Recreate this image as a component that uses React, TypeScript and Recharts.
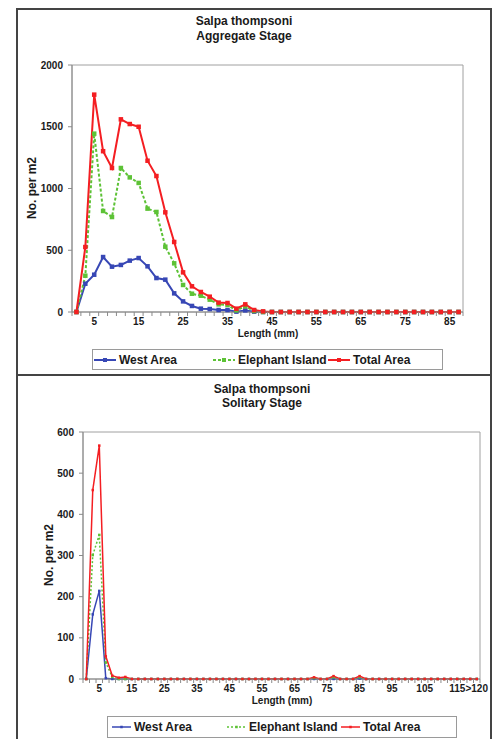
import React from 'react';
import { LineChart, Line, XAxis, YAxis, ReferenceArea } from 'recharts';

const FONT = '"Liberation Sans", Arial, Helvetica, sans-serif';

// ---------- Aggregate stage ----------
const aggCategories = ['1','3','5','7','9','11','13','15','17','19','21','23','25','27','29','31','33','35','37','39','41','43','45','47','49','51','53','55','57','59','61','63','65','67','69','71','73','75','77','79','81','83','85','87'];
const aggLabels = ['5','15','25','35','45','55','65','75','85'];
const aggYTicks = [0, 500, 1000, 1500, 2000];
const aggWest = [0,229,302,445,367,381,416,437,370,275,262,151,86,49,27,24,16,16,3,13,3,0,0,0,0,0,0,0,0,0,0,0,0,0,0,0,0,0,0,0,0,0,0,0];
const aggElephant = [0,294,1444,818,769,1166,1090,1045,837,810,529,394,219,148,132,100,62,57,13,46,8,0,0,0,0,0,0,0,0,0,0,0,0,0,0,0,0,0,0,0,0,0,0,0];
const aggTotal = [0,526,1760,1302,1166,1560,1522,1500,1225,1101,807,567,321,208,162,124,76,73,27,62,16,5,0,0,0,0,0,0,0,0,0,0,0,0,0,0,0,0,0,0,0,0,0,0];

// ---------- Solitary stage ----------
const solCategories = ['1','3','5','7','9','11','13','15','17','19','21','23','25','27','29','31','33','35','37','39','41','43','45','47','49','51','53','55','57','59','61','63','65','67','69','71','73','75','77','79','81','83','85','87','89','91','93','95','97','99','101','103','105','107','109','111','113','115','117','119','>120'];
const solLabels = ['5','15','25','35','45','55','65','75','85','95','105','115','>120'];
const solYTicks = [0, 100, 200, 300, 400, 500, 600];
const solWest = [0,157,214,2,0,0,0,0,0,0, 0,0,0,0,0,0,0,0,0,0, 0,0,0,0,0,0,0,0,0,0, 0,0,0,0,0,0,0,0,0,0, 0,0,1,0,0,0,0,0,0,0, 0,0,0,0,0,0,0,0,0,0, 0];
const solElephant = [0,301,350,40,5,0,0,0,0,0, 0,0,0,0,0,0,0,0,0,0, 0,0,0,0,0,0,0,0,0,0, 0,0,0,0,0,2,0,0,4,0, 0,0,4,0,0,0,0,0,0,0, 0,0,0,0,0,0,0,0,0,0, 0];
const solTotal = [0,459,567,55,8,3,5,0,0,0, 0,0,0,0,0,0,0,0,0,0, 0,0,0,0,0,0,0,0,0,0, 0,0,0,0,0,4,0,0,7,0, 0,0,7,0,0,0,0,0,0,0, 0,0,0,0,0,0,0,0,0,0, 0];

const seriesNames = ['West Area', 'Elephant Island', 'Total Area'];
const COLORS = { west: '#3747B5', elephant: '#5DC236', total: '#F41E22' };

type Row = { idx: number; name: string; west: number; elephant: number; total: number };

function buildRows(cats: string[], w: number[], e: number[], t: number[]): Row[] {
  return cats.map((name, idx) => ({ idx, name, west: w[idx], elephant: e[idx], total: t[idx] }));
}

const aggRows = buildRows(aggCategories, aggWest, aggElephant, aggTotal);
const solRows = buildRows(solCategories, solWest, solElephant, solTotal);

function buildTicks(cats: string[], labels: string[]): number[] {
  const bounds = cats.map((_, i) => i - 0.5).concat([cats.length - 0.5]);
  const labs = cats.map((c, i) => (labels.includes(c) ? i : -1)).filter((i) => i >= 0);
  return bounds.concat(labs).sort((a, b) => a - b);
}

const makeXTick = (cats: string[], labels: string[]) => (props: any) => {
  const { x, y, payload } = props;
  const v = payload.value as number;
  if (!Number.isInteger(v)) {
    return <line x1={x} x2={x} y1={y} y2={y + 4} stroke="#8a8a8a" strokeWidth={1} />;
  }
  const name = cats[v];
  if (!labels.includes(name)) return <g />;
  return (
    <text x={x} y={y + 13.3} textAnchor="middle" fontSize={10} fontWeight="bold" fontFamily={FONT} fill="#1a1a1a">
      {name}
    </text>
  );
};

const squareDot = (size: number, color: string) => (p: any) => {
  if (p.cx == null || p.cy == null) return <g key={`e${p.index}`} />;
  return <rect key={`d${p.index}`} x={p.cx - size / 2} y={p.cy - size / 2} width={size} height={size} fill={color} />;
};

type Style = { width: number; dotSize: number; dash: string };

function Chart(props: {
  rows: Row[]; cats: string[]; labels: string[]; yTicks: number[];
  width: number; height: number; margin: any; yWidth: number; xHeight: number;
  styles: { west: Style; elephant: Style; total: Style };
}) {
  const { rows, cats, labels, yTicks, width, height, margin, yWidth, xHeight, styles } = props;
  const n = cats.length;
  const yMax = yTicks[yTicks.length - 1];
  const keys: ('west' | 'elephant' | 'total')[] = ['west', 'elephant', 'total'];
  return (
    <LineChart width={width} height={height} data={rows} margin={margin}>
      <XAxis
        dataKey="idx"
        type="number"
        domain={[-0.5, n - 0.5]}
        ticks={buildTicks(cats, labels)}
        interval={0}
        tickSize={0}
        tickMargin={0}
        tickLine={false}
        height={xHeight}
        axisLine={{ stroke: '#8a8a8a' }}
        tick={makeXTick(cats, labels)}
        allowDataOverflow
      />
      <YAxis
        type="number"
        domain={[0, yMax]}
        ticks={yTicks}
        interval={0}
        width={yWidth}
        tickSize={4}
        tickMargin={5}
        axisLine={{ stroke: '#8a8a8a' }}
        tickLine={{ stroke: '#8a8a8a' }}
        tick={{ fontSize: 10, fontWeight: 'bold', fontFamily: FONT, fill: '#1a1a1a' }}
      />
      <ReferenceArea x1={-0.5} x2={n - 0.5} y1={0} y2={yMax} fill="none" fillOpacity={0} stroke="#a0a0a0" strokeWidth={1} />
      {keys.map((k, i) => (
        <Line
          key={k}
          dataKey={k}
          name={seriesNames[i]}
          type="linear"
          stroke={COLORS[k]}
          strokeWidth={styles[k].width}
          strokeDasharray={styles[k].dash}
          dot={squareDot(styles[k].dotSize, COLORS[k])}
          activeDot={false}
          isAnimationActive={false}
        />
      ))}
    </LineChart>
  );
}

function LegendBox(props: {
  left: number; top: number; width: number; height: number;
  offsets: number[]; lineLen: number; dotSize: number; styles: { west: Style; elephant: Style; total: Style };
}) {
  const { left, top, width, height, offsets, lineLen, dotSize, styles } = props;
  const keys: ('west' | 'elephant' | 'total')[] = ['west', 'elephant', 'total'];
  return (
    <div style={{ position: 'absolute', left, top, width, height, border: '1px solid #9a9a9a', boxSizing: 'border-box', background: '#fff' }}>
      {keys.map((k, i) => (
        <div key={k} style={{ position: 'absolute', left: offsets[i], top: 0, height: height - 2, display: 'flex', alignItems: 'center', whiteSpace: 'nowrap' }}>
          <svg width={lineLen} height={8} style={{ display: 'block' }}>
            <line x1={0} x2={lineLen} y1={4} y2={4} stroke={COLORS[k]} strokeWidth={styles[k].width} strokeDasharray={styles[k].dash} />
            <rect x={lineLen / 2 - dotSize / 2} y={4 - dotSize / 2} width={dotSize} height={dotSize} fill={COLORS[k]} />
          </svg>
          <span style={{ marginLeft: 3, fontFamily: FONT, fontWeight: 'bold', fontSize: 12, color: '#1a1a1a' }}>{seriesNames[i]}</span>
        </div>
      ))}
    </div>
  );
}

const txt: React.CSSProperties = { position: 'absolute', fontFamily: FONT, fontWeight: 'bold', color: '#1a1a1a', whiteSpace: 'nowrap' };

export default function App() {
  const aggStyles = {
    west: { width: 2, dotSize: 4.5, dash: '' },
    elephant: { width: 2, dotSize: 4.5, dash: '3 2' },
    total: { width: 2, dotSize: 4.5, dash: '' },
  };
  const solStyles = {
    west: { width: 1.5, dotSize: 2.5, dash: '' },
    elephant: { width: 1.5, dotSize: 2.5, dash: '2 2' },
    total: { width: 1.5, dotSize: 2.5, dash: '' },
  };
  return (
    <div style={{ position: 'absolute', left: 0, top: 0, width: 501, height: 739, overflow: 'hidden', background: '#fff' }}>
      {/* frames */}
      <div style={{ position: 'absolute', left: 16, top: 8, width: 476, height: 368, border: '2px solid #444', boxSizing: 'border-box' }} />
      <div style={{ position: 'absolute', left: 16, top: 374, width: 476, height: 380, border: '2px solid #444', boxSizing: 'border-box' }} />

      {/* top chart */}
      <div style={{ ...txt, left: 144, top: 13.5, width: 200, textAlign: 'center', fontSize: 12, lineHeight: '15px' }}>
        Salpa thompsoni<br />Aggregate Stage
      </div>
      <div style={{ position: 'absolute', left: 0, top: 0 }}>
        <Chart rows={aggRows} cats={aggCategories} labels={aggLabels} yTicks={aggYTicks}
          width={501} height={375} margin={{ top: 65, right: 38, bottom: 0, left: 0 }} yWidth={72} xHeight={63} styles={aggStyles} />
      </div>
      <div style={{ ...txt, left: 32, top: 188, fontSize: 12, transform: 'translate(-50%, -50%) rotate(-90deg)' }}>No. per m2</div>
      <div style={{ ...txt, left: 268, top: 333, fontSize: 10, transform: 'translate(-50%, -50%)' }}>Length (mm)</div>
      <LegendBox left={92} top={349} width={351} height={21} offsets={[1, 120, 235]} lineLen={22} dotSize={4} styles={aggStyles} />

      {/* bottom chart */}
      <div style={{ ...txt, left: 162, top: 381.5, width: 200, textAlign: 'center', fontSize: 12, lineHeight: '14.7px' }}>
        Salpa thompsoni<br />Solitary Stage
      </div>
      <div style={{ position: 'absolute', left: 0, top: 375 }}>
        <Chart rows={solRows} cats={solCategories} labels={solLabels} yTicks={solYTicks}
          width={501} height={364} margin={{ top: 57, right: 21, bottom: 0, left: 0 }} yWidth={83} xHeight={60} styles={solStyles} />
      </div>
      <div style={{ ...txt, left: 49, top: 555, fontSize: 12, transform: 'translate(-50%, -50%) rotate(-90deg)' }}>No. per m2</div>
      <div style={{ ...txt, left: 282, top: 700, fontSize: 10, transform: 'translate(-50%, -50%)' }}>Length (mm)</div>
      <LegendBox left={107} top={716} width={350} height={22} offsets={[4, 119, 233]} lineLen={19} dotSize={2.5} styles={solStyles} />
    </div>
  );
}
